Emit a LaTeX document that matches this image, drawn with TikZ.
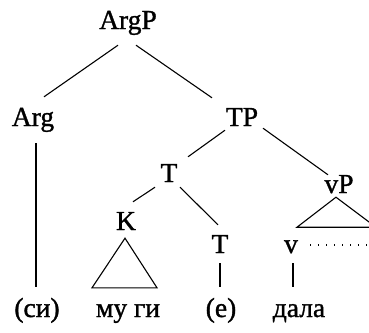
\documentclass[tikz,border=0pt]{standalone}
\usepackage{fontspec}
\setmainfont{Liberation Serif}
\newfontfamily\treefont{Liberation Serif}[FakeBold=1.2]
\usepackage{tikz}
\usetikzlibrary{calc}

\begin{document}
\begin{tikzpicture}
    [%%%%%%%%%%%%%%%%%%%%%%%%%%%%%%
        x=1pt,y=-1pt,
        lbl/.style={anchor=base,inner sep=0pt,text height=18pt,text depth=6pt,
            font=\fontsize{27.5}{32}\treefont},
        br/.style={line width=1.1pt},
        trace/.style={line width=1.2pt,dash pattern=on 1.2pt off 6.8pt},
    ]%%%%%%%%%%%%%%%%%%%%%%%%%%%%%%

\useasboundingbox (0,0) rectangle (369,332);
\clip (0,0) rectangle (369,332);

% category labels
\node[lbl] (argP) at (128,29) {ArgP};
\node[lbl] (arg) at (33,126) {Arg};
\node[lbl] (tP) at (242,126) {TP};
\node[lbl] (tUp) at (169,182) {T};
\node[lbl] (vP) at (339,193) {vP};
\node[lbl] (k) at (126,230) {K};
\node[lbl] (tLow) at (220,253) {T};
\node[lbl] (v) at (291,253) {v};

% words
\node[lbl] (si) at (37,317) {(си)};
\node[lbl] (mugi) at (128,317) {му ги};
\node[lbl] (e) at (221,317) {(е)};
\node[lbl] (dala) at (299,317) {дала};

% branches
\draw[br] ($(argP.south)+(-10,10)$) -- ($(arg.north)+(11,-11)$);
\draw[br] ($(argP.south)+(8,10)$) -- ($(tP.north)+(-30,-10)$);
\draw[br] ($(arg.south)+(3,11)$) -- ($(si.north)+(-1,-12)$);
\draw[br] ($(tP.south)+(-17,-2)$) -- ($(tUp.north)+(19,-7)$);
\draw[br] ($(tP.south)+(21,-4)$) -- ($(vP.north)+(-11,0)$);
\draw[br] ($(tUp.south)+(-14,-1)$) -- ($(k.north)+(7,-10)$);
\draw[br] ($(tUp.south)+(11,-1)$) -- ($(tLow.north)+(-2,-10)$);
\draw[br] ($(tLow.south)+(0,4)$) -- ($(e.north)+(-1,-12)$);
\draw[br] ($(v.south)+(2,4)$) -- ($(dala.north)+(-6,-12)$);

% triangles
\draw[br] ($(k.south)+(-1,2)$) -- ($(mugi.north)+(-36,-11)$)
    -- ($(mugi.north)+(29,-11)$) -- cycle;
\draw[br] ($(vP.south)+(-3,-2)$) -- ($(vP.south)+(-42,28)$)
    -- ($(vP.south)+(37,28)$) -- cycle;

% trace
\draw[trace] ($(v.east)+(12,-2)$) -- ($(v.east)+(80,-2)$);

\end{tikzpicture}
\end{document}
